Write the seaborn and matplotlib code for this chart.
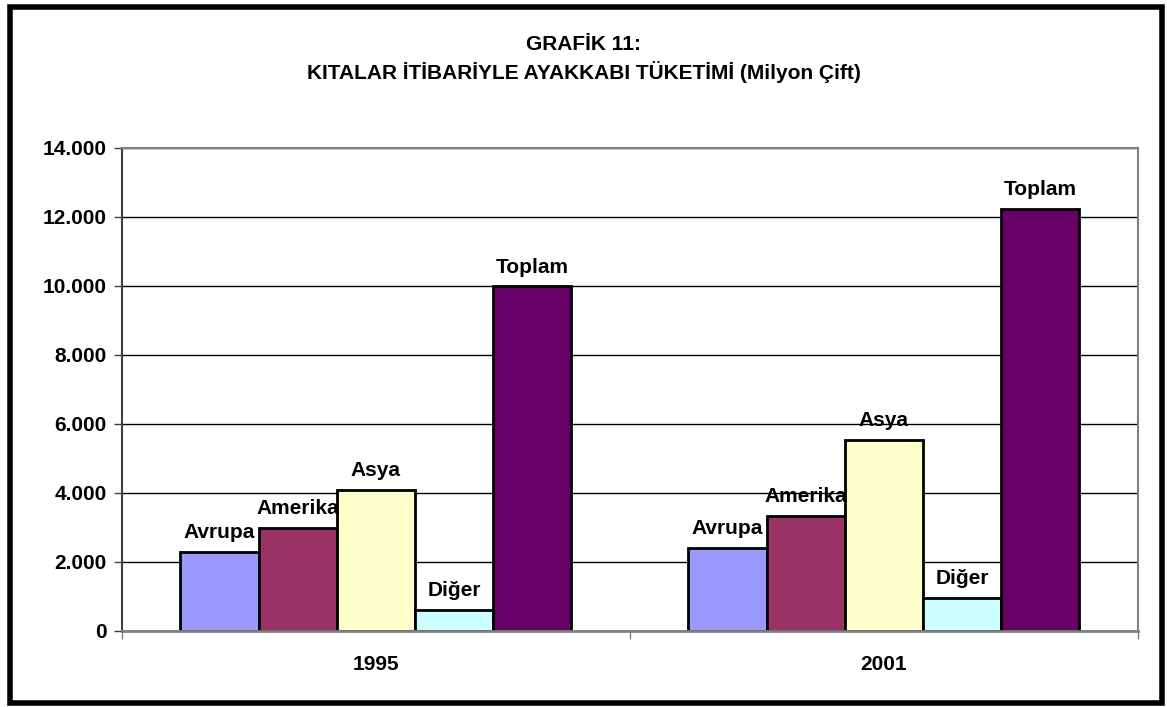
import pandas as pd
import matplotlib
matplotlib.use("Agg")
import matplotlib.pyplot as plt
import seaborn as sns
from matplotlib.patches import Rectangle
from matplotlib.ticker import FuncFormatter

years = ["1995", "2001"]
regions = ["Avrupa", "Amerika", "Asya", "Diğer", "Toplam"]
avrupa = [2290, 2410]
amerika = [2990, 3330]
asya = [4090, 5550]
diger = [620, 970]
toplam = [9990, 12240]
colors = ["#9999FF", "#993366", "#FFFFCC", "#CCFFFF", "#660066"]

rows = []
for reg, vals in zip(regions, [avrupa, amerika, asya, diger, toplam]):
    for yr, v in zip(years, vals):
        rows.append({"Yıl": yr, "Bölge": reg, "Değer": v})
df = pd.DataFrame(rows)

sns.set_style("white")
plt.rcParams['font.family'] = ['Liberation Sans', 'DejaVu Sans']
plt.rcParams['font.weight'] = 'bold'
plt.rcParams['text.color'] = 'black'
plt.rcParams['xtick.labelcolor'] = 'black'
plt.rcParams['ytick.labelcolor'] = 'black'

fig = plt.figure(figsize=(11.67, 7.07), dpi=100)
ax = fig.add_axes([0.1045, 0.1075, 0.8705, 0.6832])

sns.barplot(data=df, x="Yıl", y="Değer", hue="Bölge", order=years,
            hue_order=regions, palette=colors, width=0.77, saturation=1,
            edgecolor="black", linewidth=2, legend=False, ax=ax)

for cont, reg in zip(ax.containers, regions):
    ax.bar_label(cont, labels=[reg] * len(years), padding=7,
                 fontsize=15, fontweight='bold', color='black')

ax.set_xlim(-0.5, 1.5)
ax.set_ylim(0, 14000)
ax.set_yticks(range(0, 14001, 2000))
ax.yaxis.set_major_formatter(FuncFormatter(lambda v, p: f"{int(v):,}".replace(",", ".")))
ax.grid(axis="y", color="black", linewidth=1)
ax.set_axisbelow(True)
ax.set_xlabel("")
ax.set_ylabel("")
ax.tick_params(axis="y", left=True, length=6, width=1, labelsize=15, pad=5,
               color="#404040", labelcolor="black")
ax.tick_params(axis="x", bottom=False, labelsize=15, pad=14, labelcolor="black")
for lbl in ax.get_xticklabels() + ax.get_yticklabels():
    lbl.set_fontweight('bold')

# category boundary ticks on x axis
ax.set_xticks([-0.5, 0.5, 1.5], minor=True)
ax.tick_params(axis="x", which="minor", bottom=True, length=6, width=1, color="#808080")

for side in ["top", "right"]:
    ax.spines[side].set_color("#808080")
    ax.spines[side].set_linewidth(1.5)
ax.spines["left"].set_color("#404040")
ax.spines["bottom"].set_color("#808080")
ax.spines["left"].set_linewidth(1.5)
ax.spines["bottom"].set_linewidth(2)

fig.text(0.5, 0.937, "GRAFİK 11:", ha="center", va="center", fontsize=15,
         fontweight='bold', color='black')
fig.text(0.5, 0.898, "KITALAR İTİBARİYLE AYAKKABI TÜKETİMİ (Milyon Çift)",
         ha="center", va="center", fontsize=15, fontweight='bold', color='black')

fig.patches.append(Rectangle((0.0085, 0.006), 0.987, 0.984, transform=fig.transFigure,
                             fill=False, edgecolor="black", linewidth=4))

fig.savefig("out.png", dpi=100)
